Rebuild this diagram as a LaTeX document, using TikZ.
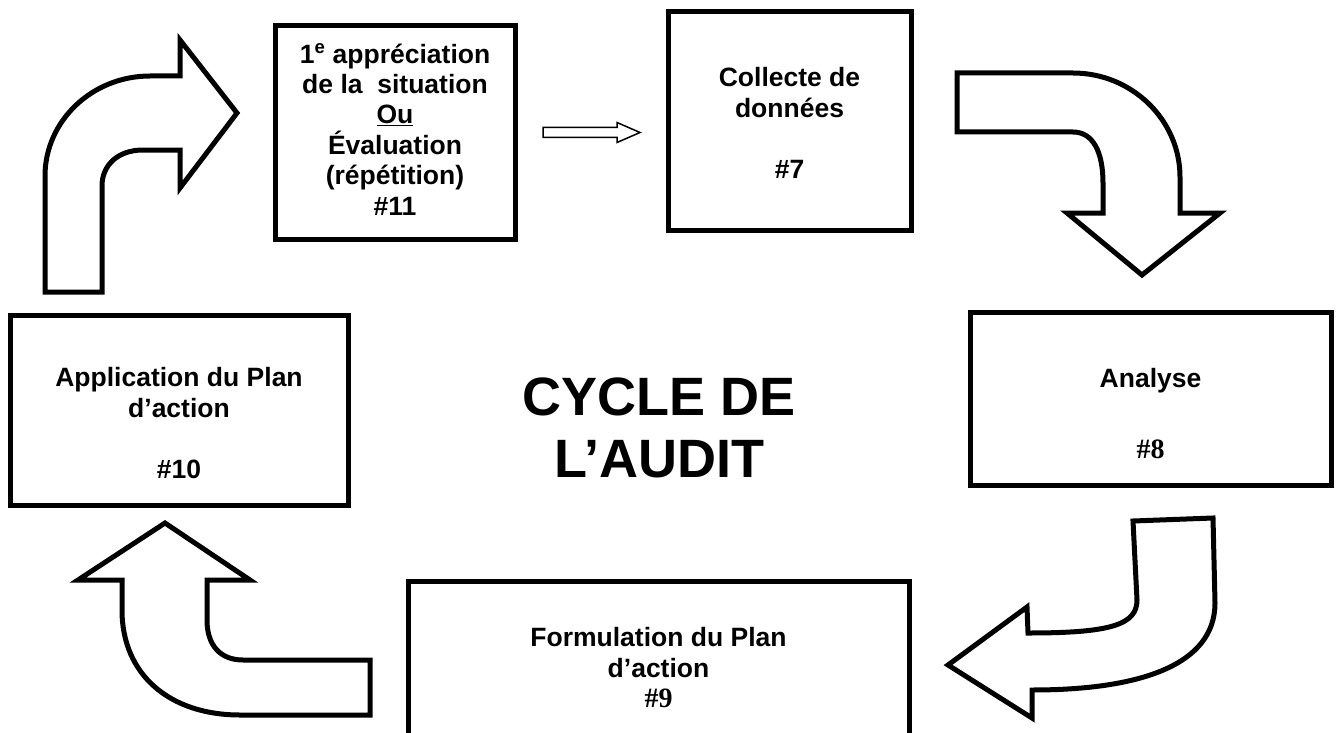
\documentclass[tikz,border=0pt]{standalone}
\usepackage{fontspec}
\setmainfont{Liberation Sans}
\newfontfamily\timesfont{Liberation Serif}
\usepackage{tikz}
\usetikzlibrary{calc}

\begin{document}
\begin{tikzpicture}[x=1pt, y=-1pt,
		boite/.style={draw, line width=5pt, inner sep=0pt},
		texte/.style={align=center, anchor=base, inner sep=0pt, font=\fontsize{26.5}{30.4}\selectfont\bfseries},
		numero/.style={anchor=base, inner sep=0pt, font=\timesfont\fontsize{28}{30}\selectfont\bfseries},
		titre/.style={align=center, anchor=base, inner sep=0pt, font=\fontsize{54}{62}\selectfont\bfseries},
		bloc/.style={draw, line width=5pt, fill=white, line join=miter}]

			\useasboundingbox (0, 0) rectangle (1338, 733);
			\clip (0, 0) rectangle (1338, 733);

			\node[boite, minimum width=240, minimum height=213] (b11) at (395, 132.5) {};
			\node[boite, minimum width=243, minimum height=218] (b7) at (789.5, 121) {};
			\node[boite, minimum width=361, minimum height=173] (b8) at (1150.5, 398.5) {};
			\node[boite, minimum width=501, minimum height=180] (b9) at (658.5, 671) {};
			\node[boite, minimum width=338, minimum height=190] (b10) at (179, 410) {};

			\node[texte] (t11) at (395, 215) {1\textsuperscript{e} appréciation\\de la~ situation\\\underline{Ou}\\Évaluation\\(répétition)\\\#11};
			\node[texte] (t7) at (789.5, 178) {Collecte de\\données\\[30.4pt]\#7};
			\node[texte] (t8) at (1150.5, 387) {Analyse};
			\node[numero] (n8) at (1150.5, 458) {\#8};
			\node[texte] (t9) at (658.5, 677) {Formulation du Plan\\d’action};
			\node[numero] (n9) at (658.5, 707) {\#9};
			\node[texte] (t10) at (179, 478) {Application du Plan\\d’action\\[30.4pt]\#10};

			\node[titre] (cycle) at (659, 477) {CYCLE DE\\L’AUDIT};

			\draw[line width=1.5pt] (543, 127.5) -- (617, 127.5) -- (617, 122.5) -- (640, 132.5) -- (617, 142.5) -- (617, 137.5) -- (543, 137.5) -- cycle;

			\draw[bloc] (45, 292) -- (45, 176) .. controls (45, 121) and (92, 76) .. (150, 76) -- (180, 76) -- (180, 40) -- (237, 113) -- (180, 188) -- (180, 150) -- (143, 150) .. controls (118, 150) and (102, 165) .. (102, 186) -- (102, 292) -- cycle;
			\draw[bloc] (957, 73) -- (1073, 73) .. controls (1132, 73) and (1180, 120) .. (1180, 177) -- (1180, 213) -- (1220, 213) -- (1142, 275) -- (1067, 213) -- (1103, 213) -- (1103, 183) .. controls (1103, 152) and (1093, 132) .. (1073, 132) -- (957, 132) -- cycle;
			\draw[bloc] (1133, 521) -- (1213, 518) -- (1215, 603) .. controls (1215, 665) and (1140, 690) .. (1032, 690) -- (1032, 718) -- (948, 665) -- (1027, 607) -- (1028, 633) .. controls (1110, 633) and (1137, 625) .. (1137, 600) -- cycle;
			\draw[bloc] (370, 715) -- (240, 715) .. controls (170, 715) and (122, 675) .. (122, 610) -- (122, 580) -- (78, 580) -- (165, 523) -- (250, 580) -- (207, 580) -- (207, 620) .. controls (207, 645) and (220, 660) .. (243, 660) -- (370, 660) -- cycle;
		\end{tikzpicture}
\end{document}
